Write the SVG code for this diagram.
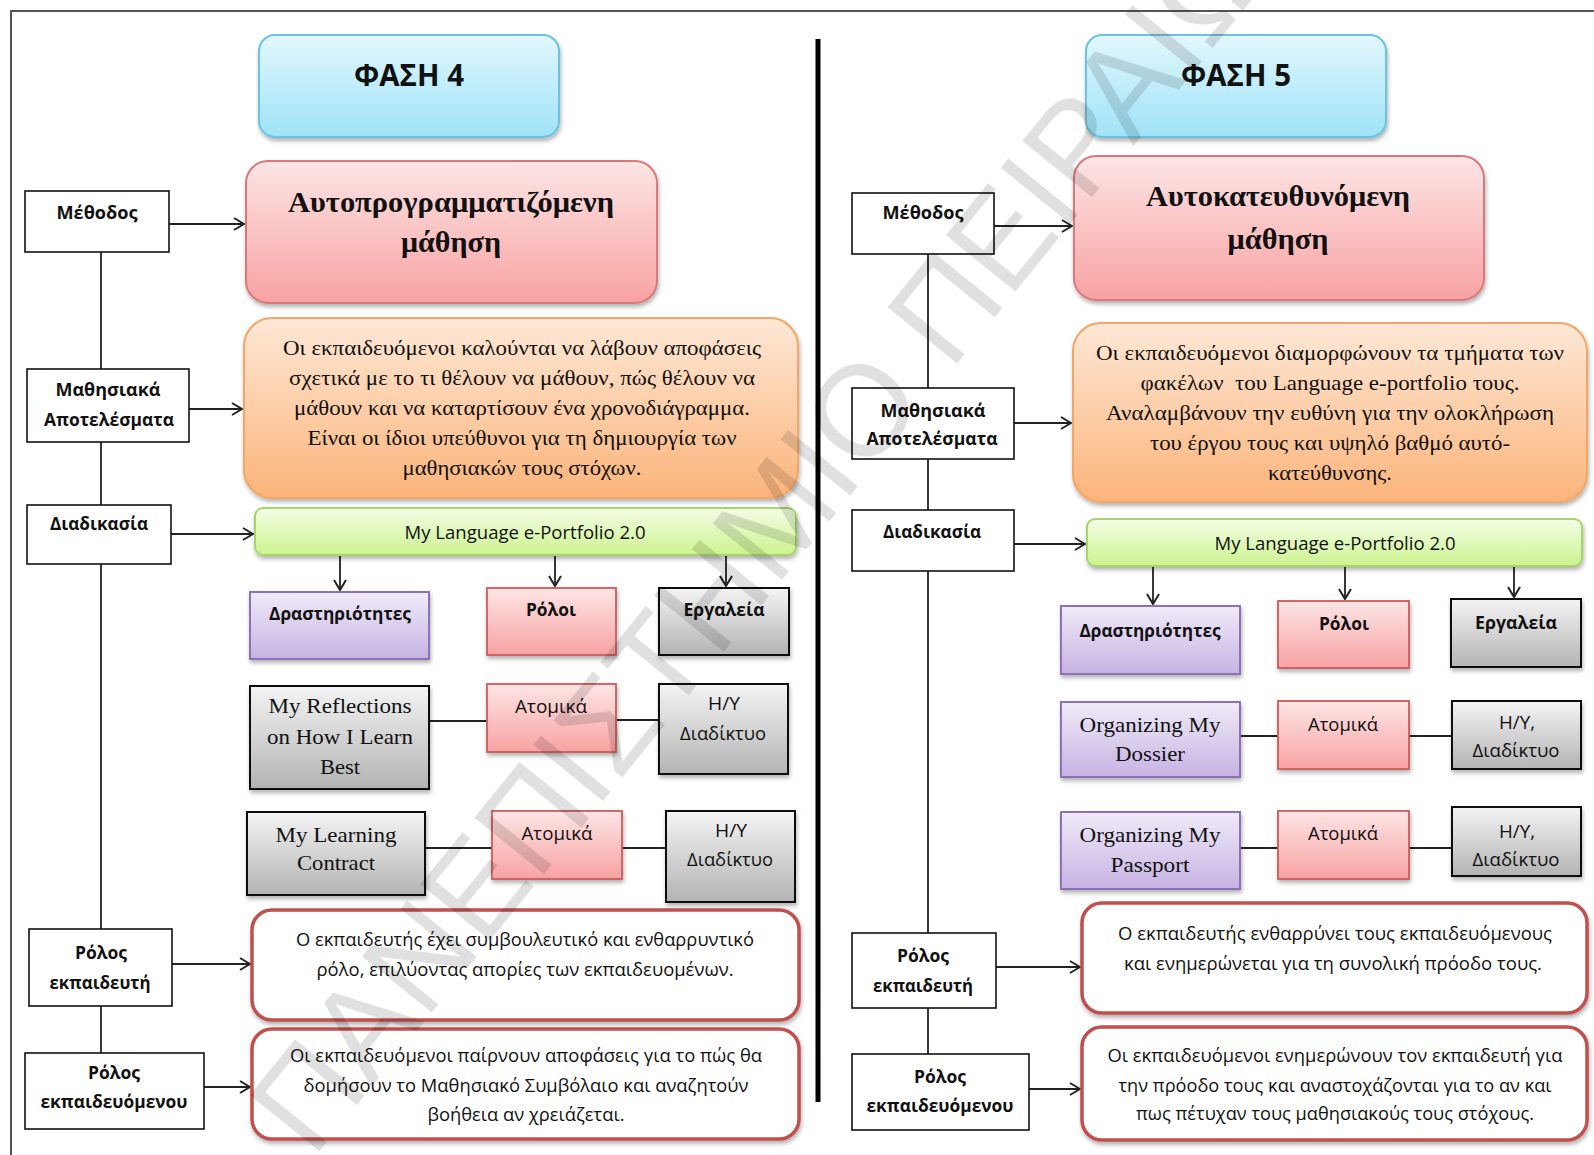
<svg xmlns="http://www.w3.org/2000/svg" width="1594" height="1155" viewBox="0 0 1594 1155">
<defs>
<linearGradient id="gCyan" x1="0" y1="0" x2="0" y2="1"><stop offset="0" stop-color="#e2f7fd"/><stop offset="1" stop-color="#9fe3f8"/></linearGradient>
<linearGradient id="gPink" x1="0" y1="0" x2="0" y2="1"><stop offset="0" stop-color="#fde5e5"/><stop offset="1" stop-color="#f8a2a2"/></linearGradient>
<linearGradient id="gOrange" x1="0" y1="0" x2="0" y2="1"><stop offset="0" stop-color="#fee8d6"/><stop offset="1" stop-color="#fbb47a"/></linearGradient>
<linearGradient id="gGreen" x1="0" y1="0" x2="0" y2="1"><stop offset="0" stop-color="#f3fde5"/><stop offset="1" stop-color="#cdf38f"/></linearGradient>
<linearGradient id="gPurple" x1="0" y1="0" x2="0" y2="1"><stop offset="0" stop-color="#f0ebf8"/><stop offset="1" stop-color="#c6b3e3"/></linearGradient>
<linearGradient id="gGrey" x1="0" y1="0" x2="0" y2="1"><stop offset="0" stop-color="#f4f4f4"/><stop offset="1" stop-color="#b3b3b3"/></linearGradient>
<filter id="sh" x="-10%" y="-10%" width="125%" height="135%"><feDropShadow dx="1" dy="3" stdDeviation="2" flood-color="#000" flood-opacity="0.3"/></filter>
<marker id="arr" viewBox="0 0 12 14" refX="11" refY="7" markerWidth="12" markerHeight="14" markerUnits="userSpaceOnUse" orient="auto"><path d="M1,1 L11,7 L1,13" fill="none" stroke="#222" stroke-width="2"/></marker>
<style>
.lbl{fill:#fff;stroke:#111;stroke-width:1.6}
.cyan{fill:url(#gCyan);stroke:#6cc3df;stroke-width:2;filter:url(#sh)}
.title{fill:url(#gPink);stroke:#d87a7c;stroke-width:2;filter:url(#sh)}
.orange{fill:url(#gOrange);stroke:#f3a665;stroke-width:2;filter:url(#sh)}
.green{fill:url(#gGreen);stroke:#a6d56c;stroke-width:2;filter:url(#sh)}
.purple{fill:url(#gPurple);stroke:#8d71b6;stroke-width:2;filter:url(#sh)}
.rose{fill:url(#gPink);stroke:#cc5b5b;stroke-width:1.8;filter:url(#sh)}
.grey{fill:url(#gGrey);stroke:#111;stroke-width:2;filter:url(#sh)}
.red{fill:#fff;stroke:#c0504d;stroke-width:3.5;filter:url(#sh)}
.conn line{stroke:#222;stroke-width:1.8}
.arrow{marker-end:url(#arr)}
text{text-anchor:middle;fill:#111}
.sb{font-family:"Open Sans","Noto Sans","DejaVu Sans",sans-serif;font-weight:700;font-size:18px}
.sr{font-family:"Open Sans","Noto Sans","DejaVu Sans",sans-serif;font-size:18px}
.ph{font-family:"Open Sans","Noto Sans","DejaVu Sans",sans-serif;font-weight:700;font-size:30px}
.tt{font-family:"Liberation Serif","DejaVu Serif",serif;font-weight:700;font-size:30px}
.se{font-family:"Liberation Serif","DejaVu Serif",serif;font-size:22px}
.wm{font-family:"Liberation Sans","DejaVu Sans",sans-serif;font-size:130px;fill:#000;fill-opacity:0.12;text-anchor:middle}
</style>
</defs>
<rect x="0" y="0" width="1594" height="1155" fill="#fff"/>
<g id="frame" fill="none" stroke="#555" stroke-width="2">
<line x1="10" y1="11" x2="1594" y2="11"/>
<line x1="11" y1="11" x2="11" y2="1155"/>
</g>
<line id="divider" x1="818" y1="39" x2="818" y2="1102" stroke="#000" stroke-width="5"/>
<g id="connectors" class="conn">
<line x1="101" y1="252" x2="101" y2="1053"/>
<line x1="928" y1="254" x2="928" y2="1054"/>
<line class="arrow" x1="169" y1="224" x2="244" y2="224"/>
<line class="arrow" x1="189" y1="409" x2="242" y2="409"/>
<line class="arrow" x1="171" y1="534" x2="253" y2="534"/>
<line class="arrow" x1="340" y1="556" x2="340" y2="590"/>
<line class="arrow" x1="555" y1="556" x2="555" y2="586"/>
<line class="arrow" x1="726" y1="556" x2="726" y2="586"/>
<line x1="429" y1="721" x2="487" y2="721"/>
<line x1="616" y1="720" x2="659" y2="720"/>
<line x1="425" y1="848" x2="492" y2="848"/>
<line x1="622" y1="848" x2="666" y2="848"/>
<line class="arrow" x1="172" y1="964" x2="250" y2="964"/>
<line class="arrow" x1="204" y1="1087" x2="250" y2="1087"/>
<line class="arrow" x1="994" y1="226" x2="1072" y2="226"/>
<line class="arrow" x1="1014" y1="423" x2="1071" y2="423"/>
<line class="arrow" x1="1014" y1="544" x2="1085" y2="544"/>
<line class="arrow" x1="1153" y1="567" x2="1153" y2="604"/>
<line class="arrow" x1="1345" y1="567" x2="1345" y2="599"/>
<line class="arrow" x1="1514" y1="567" x2="1514" y2="597"/>
<line x1="1240" y1="736" x2="1278" y2="736"/>
<line x1="1409" y1="736" x2="1452" y2="736"/>
<line x1="1240" y1="848" x2="1278" y2="848"/>
<line x1="1409" y1="848" x2="1452" y2="848"/>
<line class="arrow" x1="996" y1="967" x2="1080" y2="967"/>
<line class="arrow" x1="1029" y1="1089" x2="1080" y2="1089"/>
</g>
<g id="phase4"><rect class="cyan" x="259" y="35" width="300" height="102" rx="16"/><text class="ph" x="409" y="86" textLength="110" lengthAdjust="spacingAndGlyphs">ΦΑΣΗ 4</text></g>
<g id="title4"><rect class="title" x="246" y="161" width="411" height="142" rx="22"/><text class="tt" x="451" y="212" textLength="326" lengthAdjust="spacingAndGlyphs">Αυτοπρογραμματιζόμενη</text><text class="tt" x="451" y="252" textLength="100" lengthAdjust="spacingAndGlyphs">μάθηση</text></g>
<g id="outcome4"><rect class="orange" x="244" y="318" width="554" height="180" rx="28"/>
<text class="se" x="522" y="355" textLength="478" lengthAdjust="spacingAndGlyphs">Οι εκπαιδευόμενοι καλούνται να λάβουν αποφάσεις</text>
<text class="se" x="522" y="385" textLength="466" lengthAdjust="spacingAndGlyphs">σχετικά με το τι θέλουν να μάθουν, πώς θέλουν να</text>
<text class="se" x="522" y="415" textLength="456" lengthAdjust="spacingAndGlyphs">μάθουν και να καταρτίσουν ένα χρονοδιάγραμμα.</text>
<text class="se" x="522" y="445" textLength="429" lengthAdjust="spacingAndGlyphs">Είναι οι ίδιοι υπεύθυνοι για τη δημιουργία των</text>
<text class="se" x="522" y="475" textLength="239" lengthAdjust="spacingAndGlyphs">μαθησιακών τους στόχων.</text></g>
<g id="portfolio4"><rect class="green" x="255" y="508" width="541" height="47" rx="8"/><text class="sr" x="525" y="539" textLength="241" lengthAdjust="spacingAndGlyphs">My Language e-Portfolio 2.0</text></g>
<g id="activities4"><rect class="purple" x="250" y="592" width="179" height="67"/><text class="sb" x="340" y="620" textLength="142" lengthAdjust="spacingAndGlyphs">Δραστηριότητες</text></g>
<g id="roles4"><rect class="rose" x="487" y="588" width="129" height="67"/><text class="sb" x="551" y="616" textLength="50" lengthAdjust="spacingAndGlyphs">Ρόλοι</text></g>
<g id="tools4"><rect class="grey" x="659" y="588" width="130" height="67"/><text class="sb" x="724" y="616" textLength="81" lengthAdjust="spacingAndGlyphs">Εργαλεία</text></g>
<g id="reflections"><rect class="grey" x="250" y="686" width="179" height="103"/><text class="se" x="340" y="713" textLength="143" lengthAdjust="spacingAndGlyphs">My Reflections</text><text class="se" x="340" y="744" textLength="146" lengthAdjust="spacingAndGlyphs">on How I Learn</text><text class="se" x="340" y="774" textLength="40" lengthAdjust="spacingAndGlyphs">Best</text></g>
<g id="indiv4a"><rect class="rose" x="487" y="684" width="129" height="68"/><text class="sr" x="551" y="713" textLength="72" lengthAdjust="spacingAndGlyphs">Ατομικά</text></g>
<g id="hy4a"><rect class="grey" x="659" y="684" width="129" height="90"/><text class="sr" x="724" y="710" textLength="32" lengthAdjust="spacingAndGlyphs">H/Y</text><text class="sr" x="723" y="740" textLength="86" lengthAdjust="spacingAndGlyphs">Διαδίκτυο</text></g>
<g id="contract"><rect class="grey" x="247" y="812" width="178" height="83"/><text class="se" x="336" y="842" textLength="121" lengthAdjust="spacingAndGlyphs">My Learning</text><text class="se" x="336" y="870" textLength="78" lengthAdjust="spacingAndGlyphs">Contract</text></g>
<g id="indiv4b"><rect class="rose" x="492" y="811" width="130" height="68"/><text class="sr" x="557" y="840" textLength="71" lengthAdjust="spacingAndGlyphs">Ατομικά</text></g>
<g id="hy4b"><rect class="grey" x="666" y="811" width="129" height="91"/><text class="sr" x="731" y="837" textLength="32" lengthAdjust="spacingAndGlyphs">H/Y</text><text class="sr" x="730" y="866" textLength="86" lengthAdjust="spacingAndGlyphs">Διαδίκτυο</text></g>
<g id="teacher4"><rect class="red" x="252" y="910" width="547" height="110" rx="20"/><text class="sr" x="525" y="946" textLength="458" lengthAdjust="spacingAndGlyphs">Ο εκπαιδευτής έχει συμβουλευτικό και ενθαρρυντικό</text><text class="sr" x="525" y="976" textLength="417" lengthAdjust="spacingAndGlyphs">ρόλο, επιλύοντας απορίες των εκπαιδευομένων.</text></g>
<g id="learner4"><rect class="red" x="252" y="1029" width="547" height="110" rx="20"/><text class="sr" x="526" y="1062" textLength="472" lengthAdjust="spacingAndGlyphs">Οι εκπαιδευόμενοι παίρνουν αποφάσεις για το πώς θα</text><text class="sr" x="526" y="1092" textLength="445" lengthAdjust="spacingAndGlyphs">δομήσουν το Μαθησιακό Συμβόλαιο και αναζητούν</text><text class="sr" x="526" y="1121" textLength="197" lengthAdjust="spacingAndGlyphs">βοήθεια αν χρειάζεται.</text></g>
<g id="method4"><rect class="lbl" x="25" y="191" width="144" height="61"/><text class="sb" x="97" y="219" textLength="81" lengthAdjust="spacingAndGlyphs">Μέθοδος</text></g>
<g id="lo4"><rect class="lbl" x="27" y="369" width="162" height="73"/><text class="sb" x="108" y="396" textLength="105" lengthAdjust="spacingAndGlyphs">Μαθησιακά</text><text class="sb" x="109" y="426" textLength="130" lengthAdjust="spacingAndGlyphs">Αποτελέσματα</text></g>
<g id="proc4"><rect class="lbl" x="27" y="505" width="144" height="59"/><text class="sb" x="99" y="530" textLength="98" lengthAdjust="spacingAndGlyphs">Διαδικασία</text></g>
<g id="trole4"><rect class="lbl" x="29" y="929" width="143" height="77"/><text class="sb" x="101" y="959" textLength="52" lengthAdjust="spacingAndGlyphs">Ρόλος</text><text class="sb" x="100" y="989" textLength="101" lengthAdjust="spacingAndGlyphs">εκπαιδευτή</text></g>
<g id="lrole4"><rect class="lbl" x="25" y="1053" width="179" height="76"/><text class="sb" x="114" y="1079" textLength="52" lengthAdjust="spacingAndGlyphs">Ρόλος</text><text class="sb" x="114" y="1108" textLength="147" lengthAdjust="spacingAndGlyphs">εκπαιδευόμενου</text></g>
<g id="phase5"><rect class="cyan" x="1086" y="35" width="300" height="102" rx="16"/><text class="ph" x="1236" y="86" textLength="110" lengthAdjust="spacingAndGlyphs">ΦΑΣΗ 5</text></g>
<g id="title5"><rect class="title" x="1074" y="156" width="410" height="144" rx="22"/><text class="tt" x="1278" y="206" textLength="264" lengthAdjust="spacingAndGlyphs">Αυτοκατευθυνόμενη</text><text class="tt" x="1278" y="249" textLength="101" lengthAdjust="spacingAndGlyphs">μάθηση</text></g>
<g id="outcome5"><rect class="orange" x="1073" y="323" width="514" height="179" rx="28"/>
<text class="se" x="1330" y="360" textLength="468" lengthAdjust="spacingAndGlyphs">Οι εκπαιδευόμενοι διαμορφώνουν τα τμήματα των</text>
<text class="se" x="1330" y="390" textLength="379" lengthAdjust="spacingAndGlyphs" xml:space="preserve">φακέλων  του Language e-portfolio τους.</text>
<text class="se" x="1330" y="420" textLength="448" lengthAdjust="spacingAndGlyphs">Αναλαμβάνουν την ευθύνη για την ολοκλήρωση</text>
<text class="se" x="1330" y="450" textLength="360" lengthAdjust="spacingAndGlyphs">του έργου τους και υψηλό βαθμό αυτό-</text>
<text class="se" x="1330" y="480" textLength="124" lengthAdjust="spacingAndGlyphs">κατεύθυνσης.</text></g>
<g id="portfolio5"><rect class="green" x="1087" y="519" width="495" height="47" rx="8"/><text class="sr" x="1335" y="550" textLength="241" lengthAdjust="spacingAndGlyphs">My Language e-Portfolio 2.0</text></g>
<g id="activities5"><rect class="purple" x="1061" y="606" width="179" height="68"/><text class="sb" x="1150" y="637" textLength="141" lengthAdjust="spacingAndGlyphs">Δραστηριότητες</text></g>
<g id="roles5"><rect class="rose" x="1278" y="601" width="131" height="67"/><text class="sb" x="1344" y="630" textLength="50" lengthAdjust="spacingAndGlyphs">Ρόλοι</text></g>
<g id="tools5"><rect class="grey" x="1451" y="599" width="130" height="68"/><text class="sb" x="1516" y="629" textLength="82" lengthAdjust="spacingAndGlyphs">Εργαλεία</text></g>
<g id="dossier"><rect class="purple" x="1061" y="702" width="179" height="75"/><text class="se" x="1150" y="732" textLength="141" lengthAdjust="spacingAndGlyphs">Organizing My</text><text class="se" x="1150" y="761" textLength="70" lengthAdjust="spacingAndGlyphs">Dossier</text></g>
<g id="indiv5a"><rect class="rose" x="1278" y="701" width="131" height="68"/><text class="sr" x="1343" y="731" textLength="70" lengthAdjust="spacingAndGlyphs">Ατομικά</text></g>
<g id="hy5a"><rect class="grey" x="1452" y="701" width="129" height="68"/><text class="sr" x="1517" y="729" textLength="36" lengthAdjust="spacingAndGlyphs">H/Y,</text><text class="sr" x="1516" y="757" textLength="87" lengthAdjust="spacingAndGlyphs">Διαδίκτυο</text></g>
<g id="passport"><rect class="purple" x="1061" y="812" width="179" height="77"/><text class="se" x="1150" y="842" textLength="141" lengthAdjust="spacingAndGlyphs">Organizing My</text><text class="se" x="1150" y="872" textLength="79" lengthAdjust="spacingAndGlyphs">Passport</text></g>
<g id="indiv5b"><rect class="rose" x="1278" y="811" width="131" height="68"/><text class="sr" x="1343" y="840" textLength="70" lengthAdjust="spacingAndGlyphs">Ατομικά</text></g>
<g id="hy5b"><rect class="grey" x="1452" y="807" width="129" height="69"/><text class="sr" x="1517" y="838" textLength="36" lengthAdjust="spacingAndGlyphs">H/Y,</text><text class="sr" x="1516" y="866" textLength="87" lengthAdjust="spacingAndGlyphs">Διαδίκτυο</text></g>
<g id="teacher5"><rect class="red" x="1082" y="903" width="505" height="110" rx="20"/><text class="sr" x="1335" y="940" textLength="434" lengthAdjust="spacingAndGlyphs">Ο εκπαιδευτής ενθαρρύνει τους εκπαιδευόμενους</text><text class="sr" x="1333" y="970" textLength="418" lengthAdjust="spacingAndGlyphs">και ενημερώνεται για τη συνολική πρόοδο τους.</text></g>
<g id="learner5"><rect class="red" x="1082" y="1027" width="505" height="113" rx="20"/><text class="sr" x="1335" y="1062" textLength="455" lengthAdjust="spacingAndGlyphs">Οι εκπαιδευόμενοι ενημερώνουν τον εκπαιδευτή για</text><text class="sr" x="1335" y="1092" textLength="433" lengthAdjust="spacingAndGlyphs">την πρόοδο τους και αναστοχάζονται για το αν και</text><text class="sr" x="1335" y="1120" textLength="398" lengthAdjust="spacingAndGlyphs">πως πέτυχαν τους μαθησιακούς τους στόχους.</text></g>
<g id="method5"><rect class="lbl" x="852" y="193" width="142" height="61"/><text class="sb" x="923" y="219" textLength="81" lengthAdjust="spacingAndGlyphs">Μέθοδος</text></g>
<g id="lo5"><rect class="lbl" x="852" y="388" width="162" height="71"/><text class="sb" x="933" y="417" textLength="105" lengthAdjust="spacingAndGlyphs">Μαθησιακά</text><text class="sb" x="932" y="445" textLength="131" lengthAdjust="spacingAndGlyphs">Αποτελέσματα</text></g>
<g id="proc5"><rect class="lbl" x="852" y="510" width="162" height="61"/><text class="sb" x="932" y="538" textLength="98" lengthAdjust="spacingAndGlyphs">Διαδικασία</text></g>
<g id="trole5"><rect class="lbl" x="852" y="933" width="144" height="75"/><text class="sb" x="923" y="962" textLength="52" lengthAdjust="spacingAndGlyphs">Ρόλος</text><text class="sb" x="923" y="992" textLength="100" lengthAdjust="spacingAndGlyphs">εκπαιδευτή</text></g>
<g id="lrole5"><rect class="lbl" x="852" y="1054" width="177" height="76"/><text class="sb" x="940" y="1083" textLength="52" lengthAdjust="spacingAndGlyphs">Ρόλος</text><text class="sb" x="940" y="1112" textLength="147" lengthAdjust="spacingAndGlyphs">εκπαιδευόμενου</text></g>
<g id="watermark"><text class="wm" x="0" y="0" dy="44" transform="translate(782,510) rotate(-51)" textLength="1600" lengthAdjust="spacingAndGlyphs">ΠΑΝΕΠΙΣΤΗΜΙΟ ΠΕΙΡΑΙΩΣ</text></g>
</svg>
